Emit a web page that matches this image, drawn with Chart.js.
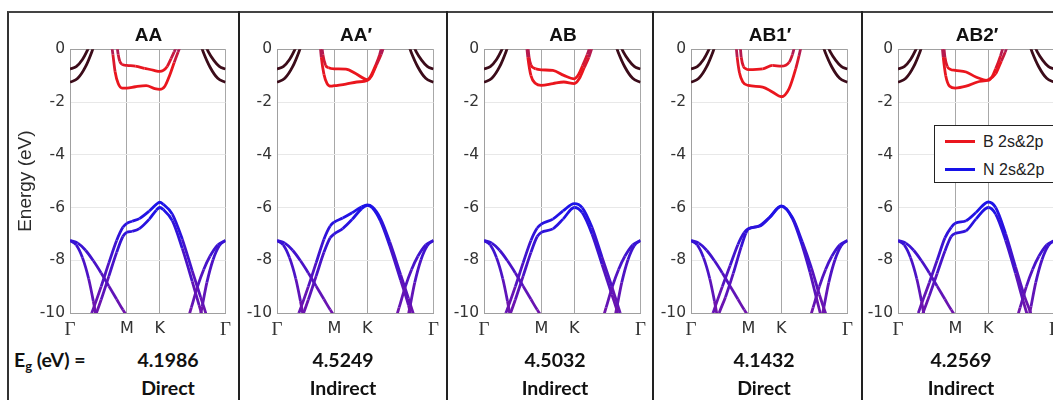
<!DOCTYPE html>
<html><head><meta charset="utf-8">
<script src="https://cdn.jsdelivr.net/npm/chart.js@4.4.1/dist/chart.umd.min.js"></script>
<style>
html,body{margin:0;padding:0;background:#fff;}
body{width:1053px;height:400px;overflow:hidden;position:relative;font-family:'Liberation Sans',Arial,sans-serif;}
.frame{position:absolute;left:7px;top:11px;width:1200px;height:500px;border-left:2px solid #333;border-top:2px solid #444;box-sizing:border-box;}
.vdiv{position:absolute;top:11px;width:2px;height:400px;background:#222;}
canvas{position:absolute;}
.ttl{position:absolute;top:25px;text-align:center;font:bold 19px 'Liberation Sans',Arial,sans-serif;line-height:1;color:#111;white-space:nowrap;}
.eg{position:absolute;font:bold 19.5px Lato,'Open Sans',sans-serif;line-height:1;color:#111;text-align:center;white-space:nowrap;}
.leg{position:absolute;left:934px;top:125px;width:140px;height:58px;border:1px solid #222;background:#fff;box-sizing:border-box;}
.legrow{position:absolute;left:10px;font:16px 'Liberation Sans',Arial,sans-serif;color:#222;line-height:1;white-space:nowrap;}
.legline{display:inline-block;width:30px;height:3px;vertical-align:middle;margin-right:8px;position:relative;top:-1px;}
</style></head><body>
<div class="frame"></div>
<div class="vdiv" style="left:238px"></div>
<div class="vdiv" style="left:446px"></div>
<div class="vdiv" style="left:652px"></div>
<div class="vdiv" style="left:861px"></div>
<script>
// ---------- data ----------
const PANEL_TITLES = ['AA', 'AA\u2032', 'AB', 'AB1\u2032', 'AB2\u2032'];
const GAP_VALUES = ['4.1986', '4.5249', '4.5032', '4.1432', '4.2569'];
const GAP_TYPES = ['Direct', 'Indirect', 'Indirect', 'Direct', 'Indirect'];
const K_TICKS = [0, 0.366, 0.577, 1];
const K_LABELS = ['\u0393', 'M', 'K', '\u0393'];
const LEGEND_LABELS = ['B 2s&2p', 'N 2s&2p'];

// conduction bands near Gamma (shared)
const GAMMA_CB_L1 = [[0,-0.75],[0.04,-0.66],[0.08,-0.39],[0.11,-0.06],[0.125,0.14]];
const GAMMA_CB_L2 = [[0,-1.25],[0.05,-1.1],[0.1,-0.66],[0.14,-0.1],[0.155,0.16]];
const GAMMA_CB_R1 = [[0.872,0.15],[0.89,-0.1],[0.925,-0.42],[0.96,-0.65],[1,-0.75]];
const GAMMA_CB_R2 = [[0.842,0.15],[0.858,-0.12],[0.9,-0.67],[0.95,-1.1],[1,-1.25]];
// sigma valence bands (shared)
const SIGMA_L_HEAVY = [[0,-7.25],[0.05,-7.35],[0.1,-7.62],[0.15,-8.02],[0.2,-8.48],[0.25,-8.98],[0.3,-9.48],[0.34,-9.88],[0.37,-10.15]];
const SIGMA_L_LIGHT = [[0,-7.25],[0.04,-7.42],[0.08,-7.9],[0.12,-8.7],[0.15,-9.55],[0.17,-10.2]];
const SIGMA_R_HEAVY = [[0.76,-10.2],[0.78,-9.8],[0.82,-9.0],[0.86,-8.35],[0.9,-7.85],[0.95,-7.42],[1,-7.25]];
const SIGMA_R_LIGHT = [[0.835,-10.2],[0.85,-9.75],[0.88,-8.85],[0.92,-7.98],[0.96,-7.45],[1,-7.25]];

// AA
const AA_CB1 = [[0.302,0.15],[0.31,-0.2],[0.32,-0.45],[0.335,-0.57],[0.366,-0.61],[0.42,-0.64],[0.48,-0.72],[0.54,-0.8],[0.577,-0.84],[0.6,-0.8],[0.625,-0.65],[0.65,-0.35],[0.67,-0.1],[0.688,0.15]];
const AA_CB2 = [[0.268,0.15],[0.276,-0.2],[0.29,-0.85],[0.31,-1.3],[0.335,-1.47],[0.366,-1.47],[0.42,-1.42],[0.49,-1.38],[0.545,-1.49],[0.577,-1.52],[0.61,-1.4],[0.64,-1.0],[0.67,-0.5],[0.695,-0.1],[0.712,0.15]];
const AA_VB1 = [[0.12,-10.3],[0.14,-10],[0.2,-9.0],[0.25,-8.1],[0.3,-7.25],[0.34,-6.75],[0.366,-6.6],[0.4,-6.52],[0.446,-6.42],[0.51,-6.13],[0.555,-5.88],[0.577,-5.8],[0.6,-5.88],[0.658,-6.25],[0.722,-7.2],[0.786,-8.4],[0.84,-9.4],[0.875,-10.05],[0.885,-10.3]];
const AA_VB2 = [[0.15,-10.3],[0.17,-10],[0.2,-9.5],[0.25,-8.6],[0.3,-7.7],[0.34,-7.1],[0.366,-6.94],[0.4,-6.9],[0.446,-6.8],[0.51,-6.44],[0.555,-6.1],[0.577,-6.0],[0.6,-6.08],[0.658,-6.5],[0.722,-7.55],[0.786,-8.8],[0.83,-9.7],[0.855,-10.2]];
// AA'
const AAP_CB1 = [[0.286,0.15],[0.293,-0.2],[0.31,-0.6],[0.33,-0.7],[0.366,-0.74],[0.44,-0.75],[0.505,-0.93],[0.577,-1.15],[0.6,-1.0],[0.63,-0.61],[0.655,-0.22],[0.672,0.15]];
const AAP_CB2 = [[0.276,0.15],[0.283,-0.3],[0.3,-0.95],[0.32,-1.3],[0.345,-1.4],[0.366,-1.38],[0.44,-1.32],[0.51,-1.24],[0.577,-1.18],[0.605,-1.0],[0.635,-0.6],[0.665,-0.2],[0.685,0.15]];
const AAP_VB1 = [[0.12,-10.3],[0.14,-10],[0.2,-9.0],[0.25,-8.1],[0.3,-7.2],[0.34,-6.7],[0.366,-6.55],[0.42,-6.4],[0.48,-6.2],[0.54,-5.98],[0.577,-5.9],[0.61,-5.98],[0.66,-6.4],[0.72,-7.3],[0.79,-8.55],[0.84,-9.45],[0.875,-10.1]];
const AAP_VB2 = [[0.15,-10.3],[0.17,-10],[0.2,-9.5],[0.25,-8.6],[0.3,-7.7],[0.34,-7.15],[0.366,-7.0],[0.42,-6.8],[0.48,-6.45],[0.54,-6.05],[0.577,-5.92],[0.61,-6.02],[0.66,-6.5],[0.72,-7.45],[0.79,-8.75],[0.84,-9.7],[0.86,-10.2]];
// AB
const AB_CB1 = [[0.28,0.15],[0.288,-0.3],[0.3,-0.6],[0.33,-0.74],[0.366,-0.78],[0.44,-0.8],[0.51,-0.99],[0.577,-1.12],[0.605,-0.95],[0.63,-0.62],[0.66,-0.2],[0.68,0.15]];
const AB_CB2 = [[0.272,0.15],[0.28,-0.3],[0.3,-1.0],[0.33,-1.3],[0.366,-1.37],[0.44,-1.3],[0.51,-1.24],[0.577,-1.3],[0.61,-1.1],[0.64,-0.7],[0.67,-0.3],[0.695,0.15]];
const AB_VB1 = [[0.12,-10.3],[0.14,-10],[0.2,-9.0],[0.25,-8.1],[0.3,-7.25],[0.34,-6.78],[0.366,-6.63],[0.44,-6.44],[0.505,-6.13],[0.577,-5.85],[0.627,-6.0],[0.69,-6.75],[0.754,-7.88],[0.817,-9.0],[0.87,-10.0],[0.88,-10.2]];
const AB_VB2 = [[0.15,-10.3],[0.17,-10],[0.2,-9.5],[0.25,-8.6],[0.3,-7.7],[0.34,-7.1],[0.366,-6.94],[0.44,-6.81],[0.505,-6.44],[0.577,-6.0],[0.627,-6.19],[0.69,-7.0],[0.754,-8.15],[0.817,-9.3],[0.855,-10.0],[0.865,-10.2]];
// AB1'
const AB1P_CB1 = [[0.314,0.15],[0.321,-0.3],[0.335,-0.65],[0.352,-0.74],[0.366,-0.77],[0.458,-0.74],[0.52,-0.61],[0.577,-0.64],[0.627,-0.49],[0.648,-0.2],[0.664,0.15]];
const AB1P_CB2 = [[0.288,0.15],[0.295,-0.3],[0.31,-0.9],[0.331,-1.24],[0.366,-1.37],[0.458,-1.43],[0.52,-1.62],[0.577,-1.8],[0.627,-1.49],[0.669,-0.74],[0.69,-0.25],[0.705,0.15]];
const AB1P_VB1 = [[0.125,-10.3],[0.141,-10],[0.2,-9.0],[0.25,-8.2],[0.3,-7.4],[0.34,-6.95],[0.366,-6.8],[0.437,-6.69],[0.5,-6.38],[0.577,-5.94],[0.648,-6.38],[0.711,-7.3],[0.77,-8.3],[0.82,-9.3],[0.865,-10.1]];
const AB1P_VB2 = [[0.165,-10.3],[0.18,-10],[0.22,-9.4],[0.27,-8.5],[0.32,-7.5],[0.35,-6.98],[0.366,-6.82],[0.437,-6.71],[0.5,-6.4],[0.577,-5.96],[0.648,-6.42],[0.711,-7.45],[0.76,-8.45],[0.8,-9.4],[0.83,-10.1]];
// AB2'
const AB2P_CB1 = [[0.292,0.15],[0.3,-0.3],[0.315,-0.65],[0.335,-0.76],[0.366,-0.8],[0.435,-0.86],[0.498,-1.05],[0.577,-1.18],[0.6,-1.05],[0.624,-0.74],[0.655,-0.25],[0.675,0.15]];
const AB2P_CB2 = [[0.282,0.15],[0.289,-0.3],[0.305,-1.0],[0.33,-1.4],[0.366,-1.47],[0.435,-1.4],[0.508,-1.24],[0.577,-1.15],[0.624,-0.93],[0.66,-0.45],[0.685,-0.1],[0.7,0.15]];
const AB2P_VB1 = [[0.115,-10.3],[0.13,-10],[0.2,-8.85],[0.25,-8.0],[0.3,-7.15],[0.34,-6.75],[0.366,-6.6],[0.435,-6.5],[0.498,-6.19],[0.577,-5.79],[0.624,-6.0],[0.688,-7.0],[0.751,-8.25],[0.81,-9.4],[0.85,-10.05],[0.86,-10.3]];
const AB2P_VB2 = [[0.145,-10.3],[0.16,-10],[0.2,-9.35],[0.25,-8.5],[0.3,-7.65],[0.34,-7.1],[0.366,-6.98],[0.435,-6.88],[0.498,-6.44],[0.577,-6.0],[0.624,-6.25],[0.688,-7.25],[0.751,-8.5],[0.8,-9.55],[0.83,-10.15]];

const PANEL_CB = [[AA_CB1, AA_CB2], [AAP_CB1, AAP_CB2], [AB_CB1, AB_CB2], [AB1P_CB1, AB1P_CB2], [AB2P_CB1, AB2P_CB2]];
const PANEL_VB = [[AA_VB1, AA_VB2], [AAP_VB1, AAP_VB2], [AB_VB1, AB_VB2], [AB1P_VB1, AB1P_VB2], [AB2P_VB1, AB2P_VB2]];

// ---------- layout & style ----------
const PLOT_LEFT = [70, 277, 484, 691, 898];
const PLOT_W = [157, 158, 158, 158, 158];
const GAP_CENTER = [168, 343, 555, 764, 961];
const PLOT_TOP = 47, PLOT_BOTTOM = 313, PAD_TOP = 12, PAD_R = 10, XAXIS_H = 27;
const TICK_FONT = "'DejaVu Sans', 'Liberation Sans', sans-serif";

function mix(a, b, t) { return 'rgb(' + a.map((v, i) => Math.round(v + (b[i] - v) * t)).join(',') + ')'; }
const VB_TOP = [28, 18, 232], VB_BOT = [112, 20, 172];
const CB_FLAT = [234, 22, 30], CB_EDGE = [176, 26, 84];
function clamp(t) { return Math.min(1, Math.max(0, t)); }
function vbColor(e) { return mix(VB_TOP, VB_BOT, clamp((-6 - e) / 4)); }
function cbColor(e) { return mix(CB_FLAT, CB_EDGE, clamp((e + 0.7) / 0.7)); }
const DARK = 'rgb(60,12,26)';

function toXY(arr) { return arr.map(p => ({ x: p[0], y: p[1] })); }
function ds(arr, kind) {
  const base = { data: toXY(arr), pointRadius: 0, borderWidth: 2.8, fill: false, clip: 0,
    cubicInterpolationMode: 'monotone' };
  if (kind === 'dark') { base.borderColor = DARK; }
  else if (kind === 'cb') {
    base.borderColor = cbColor(-1);
    base.segment = { borderColor: c => cbColor((c.p0.parsed.y + c.p1.parsed.y) / 2) };
  } else {
    base.borderColor = vbColor(-7);
    base.segment = { borderColor: c => vbColor((c.p0.parsed.y + c.p1.parsed.y) / 2) };
  }
  return base;
}

function addText(cls, html, style) {
  const d = document.createElement('div');
  d.className = cls; d.innerHTML = html;
  Object.assign(d.style, style);
  document.body.appendChild(d);
  return d;
}

for (let i = 0; i < 5; i++) {
  const axisW = i === 0 ? 56 : 48;
  const cv = document.createElement('canvas');
  const w = axisW + PLOT_W[i] + PAD_R;
  const h = (PLOT_BOTTOM - PLOT_TOP) + PAD_TOP + XAXIS_H;
  cv.width = w; cv.height = h;
  cv.style.width = w + 'px'; cv.style.height = h + 'px';
  cv.style.left = (PLOT_LEFT[i] - axisW) + 'px';
  cv.style.top = (PLOT_TOP - PAD_TOP) + 'px';
  document.body.appendChild(cv);

  const datasets = [
    ds(SIGMA_L_HEAVY, 'vb'), ds(SIGMA_L_LIGHT, 'vb'), ds(SIGMA_R_HEAVY, 'vb'), ds(SIGMA_R_LIGHT, 'vb'),
    ds(PANEL_VB[i][1], 'vb'), ds(PANEL_VB[i][0], 'vb'),
    ds(GAMMA_CB_L1, 'dark'), ds(GAMMA_CB_L2, 'dark'), ds(GAMMA_CB_R1, 'dark'), ds(GAMMA_CB_R2, 'dark'),
    ds(PANEL_CB[i][1], 'cb'), ds(PANEL_CB[i][0], 'cb')
  ];

  new Chart(cv, {
    type: 'line',
    data: { datasets },
    options: {
      responsive: false, animation: false, devicePixelRatio: 1,
      layout: { padding: { top: PAD_TOP, right: PAD_R, bottom: 0, left: 0 } },
      plugins: { legend: { display: false }, tooltip: { enabled: false }, title: { display: false } },
      scales: {
        x: {
          type: 'linear', min: 0, max: 1,
          afterBuildTicks: s => { s.ticks = K_TICKS.map(v => ({ value: v })); },
          afterFit: s => { s.height = XAXIS_H; },
          grid: { color: '#a8a8a8', lineWidth: 1, drawTicks: false },
          border: { color: '#a0a0a0', width: 1 },
          ticks: {
            autoSkip: false, maxRotation: 0, padding: 6, color: '#333',
            callback: (v, idx) => K_LABELS[idx],
            font: c => (K_LABELS[c.index] === '\u0393') ? { family: "'Liberation Serif', serif", size: 19 } : { family: TICK_FONT, size: 16 }
          }
        },
        y: {
          type: 'linear', min: -10, max: 0,
          afterFit: s => { s.width = axisW; },
          grid: { color: c => (c.tick && (c.tick.value === 0 || c.tick.value === -10)) ? '#a0a0a0' : '#e8e8e8', lineWidth: 1, drawTicks: false },
          border: { color: '#a0a0a0', width: 1 },
          ticks: { stepSize: 2, padding: 5, color: '#333', font: { family: TICK_FONT, size: 15.5 } },
          title: { display: i === 0, text: 'Energy (eV)', color: '#2a2a2a', padding: 0, font: { family: "'Liberation Sans', Arial, sans-serif", size: 19 } }
        }
      }
    }
  });

  addText('ttl', PANEL_TITLES[i], { left: PLOT_LEFT[i] + 'px', width: PLOT_W[i] + 'px' });
  addText('eg', GAP_VALUES[i], { left: (GAP_CENTER[i] - 60) + 'px', width: '120px', top: '350px' });
  addText('eg', GAP_TYPES[i], { left: (GAP_CENTER[i] - 60) + 'px', width: '120px', top: '378px' });
}
addText('eg', 'E<sub style="font-size:13px;vertical-align:-4px;line-height:0">g</sub> (eV) =', { left: '14px', top: '350px', textAlign: 'left' });

// legend
const leg = document.createElement('div'); leg.className = 'leg'; document.body.appendChild(leg);
const LEG_COLORS = ['rgb(234,22,30)', 'rgb(22,18,232)'];
LEGEND_LABELS.forEach((t, j) => {
  const r = document.createElement('div'); r.className = 'legrow';
  r.style.top = (j === 0 ? 8 : 36) + 'px';
  const ln = document.createElement('span'); ln.className = 'legline'; ln.style.background = LEG_COLORS[j];
  r.appendChild(ln); r.appendChild(document.createTextNode(t));
  leg.appendChild(r);
});
</script>
</body></html>
